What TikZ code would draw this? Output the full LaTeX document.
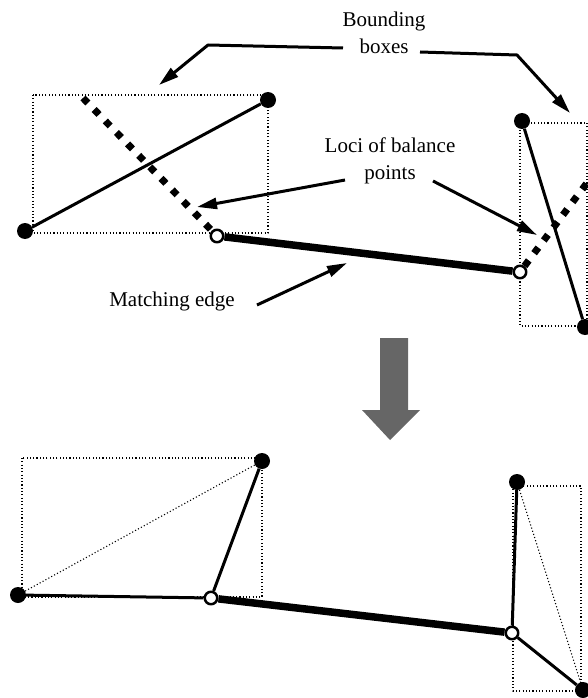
\documentclass[tikz,border=0pt]{standalone}
\usepackage{fontspec}
\setmainfont{Liberation Serif}
\usetikzlibrary{arrows.meta, positioning}

\begin{document}
\begin{tikzpicture}[x=1pt, y=-1pt, line join=round,
	dot/.style={circle, fill, inner sep=0pt, minimum size=16pt},
	odot/.style={circle, draw, fill=white, line width=2.5pt, inner sep=0pt, minimum size=12.5pt},
	bbox/.style={line width=1.1pt, dash pattern=on 1.1pt off 2.2pt},
	seg/.style={line width=3pt},
	match/.style={line width=7.5pt},
	locus/.style={line width=7pt, dash pattern=on 7pt off 9pt},
	callout/.style={line width=3pt, -{Triangle[length=20pt, width=11pt]}},
	lbl/.style={font=\fontsize{21}{27}\selectfont, align=center, inner sep=0pt}]
			\useasboundingbox (0,0) rectangle (588,698);
			
			\draw[bbox] (33,95) rectangle (268,233);
			\draw[bbox] (520,123) rectangle (587,326);
			
			\node[dot] (a1) at (25,231) {};
			\node[dot] (b1) at (268,100) {};
			\node[odot] (m1) at (217,236) {};
			\node[odot] (m2) at (520,272) {};
			\node[dot] (c1) at (522,121) {};
			\node[dot] (d1) at (585,327) {};
			\coordinate (l1) at (83,98);
			\coordinate (l2) at (602,163);
			
			\draw[seg] (a1) -- (b1);
			\draw[seg] (c1) -- (d1);
			\draw[locus] (l1) -- (m1);
			\draw[locus] (m2) -- (l2);
			\draw[match] (m1) -- (m2);
			
			\node[lbl] (bb) at (384,33) {Bounding\\boxes};
			\node[lbl] (loci) at (390,161) {Loci of balance\\points};
			\node[lbl] (me) at (172,301) {Matching edge};
			
			\coordinate (bbl) at (343,48);
			\coordinate (bblk) at (208,45);
			\coordinate (bblt) at (159,85);
			\coordinate (bbr) at (420,52);
			\coordinate (bbrk) at (517,55);
			\coordinate (bbrt) at (570,113);
			\coordinate (locl) at (345,180);
			\coordinate (loclt) at (197,207);
			\coordinate (locr) at (433,181);
			\coordinate (locrt) at (537,235);
			\coordinate (mel) at (257,305);
			\coordinate (melt) at (347,263);
			
			\draw[callout] (bbl) -- (bblk) -- (bblt);
			\draw[callout] (bbr) -- (bbrk) -- (bbrt);
			\draw[callout] (locl) -- (loclt);
			\draw[callout] (locr) -- (locrt);
			\draw[callout] (mel) -- (melt);
			
			\fill[black!60] (380,338) -- (408,338) -- (408,410) -- (420,410) -- (390,440) -- (362,410) -- (380,410) -- cycle;
			
			\draw[bbox] (22,458) rectangle (262,597);
			\draw[bbox] (513,486) rectangle (581,691);
			
			\node[dot] (a2) at (18,595) {};
			\node[dot] (b2) at (262,461) {};
			\node[odot] (m3) at (211,598) {};
			\node[odot] (m4) at (512,633) {};
			\node[dot] (c2) at (517,482) {};
			\node[dot] (d2) at (583,690) {};
			
			\draw[bbox] (a2) -- (b2);
			\draw[bbox] (c2) -- (d2);
			\draw[seg] (a2) -- (m3);
			\draw[seg] (m3) -- (b2);
			\draw[seg] (c2) -- (m4);
			\draw[seg] (m4) -- (d2);
			\draw[match] (m3) -- (m4);
\end{tikzpicture}
\end{document}
